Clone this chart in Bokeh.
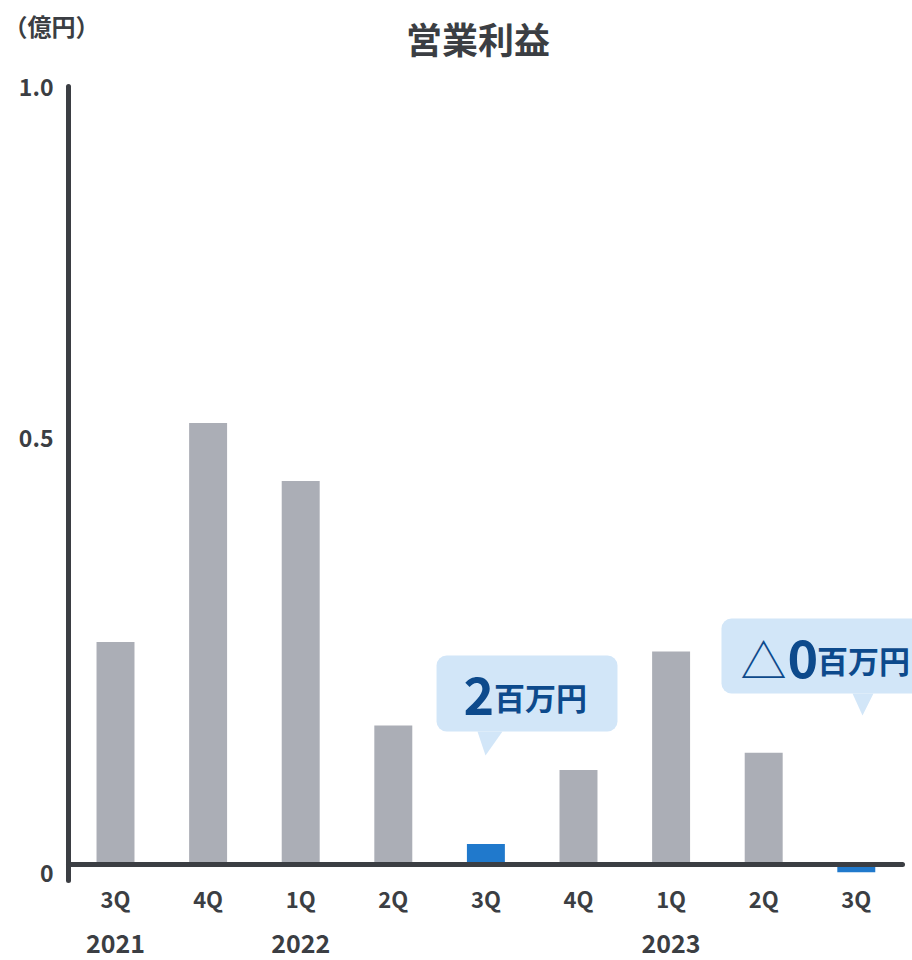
from bokeh.plotting import figure
from bokeh.models import Range1d, LinearAxis, FixedTicker, BoxAnnotation, Label, ColumnDataSource
from bokeh.core.properties import value
from bokeh.embed import file_html
from bokeh.resources import INLINE

# ---- data ----
quarters = ["3Q", "4Q", "1Q", "2Q", "3Q", "4Q", "1Q", "2Q", "3Q"]
years = ["2021", "2022", "2023"]
year_start_index = [0, 2, 6]
operating_profit = [0.261, 0.518, 0.450, 0.163, 0.024, 0.111, 0.250, 0.131, -0.009]  # 億円
y_tick_labels = ["0", "0.5", "1.0"]
callout_bars = [4, 8]
callout_1 = ["2", "百万円"]
callout_2 = ["△", "0", "百万円"]
title_text = "営業利益"
unit_text = "（億円）"

# ---- style ----
FONT_NAME = "Noto Sans CJK JP"
FONT = value(FONT_NAME)
GRAY = "#abaeb6"
BLUE = "#2079cc"
DARK = "#3b3e43"
BUBBLE = "#d2e6f8"
NAVY = "#0d4a8c"

idx = list(range(len(quarters)))
colors = [BLUE if i in callout_bars else GRAY for i in idx]
src = ColumnDataSource(dict(x=idx, top=operating_profit, color=colors))

# frame covers the whole canvas; axes are placed at fixed locations
X0, X1 = -1.242, 8.607
Y0, Y1 = -0.1127, 1.014
AXIS_X = -0.508
p = figure(width=912, height=960,
           x_range=Range1d(X0, X1), y_range=Range1d(Y0, Y1),
           output_backend="svg", toolbar_location=None,
           x_axis_location=None, y_axis_location=None,
           min_border=0, min_border_left=0, min_border_right=0,
           min_border_top=0, min_border_bottom=0)
p.grid.visible = False
p.outline_line_color = None

p.vbar(x="x", top="top", bottom=0, width=0.41, fill_color="color", line_color=None, source=src)

# y axis
yax = LinearAxis(ticker=FixedTicker(ticks=[-0.011, 0.5, 0.912]),
                 major_label_overrides={-0.011: y_tick_labels[0], 0.5: y_tick_labels[1],
                                        0.912: y_tick_labels[2]},
                 fixed_location=AXIS_X, bounds=(-0.019, 0.913))
yax.axis_line_width = 5
yax.axis_line_color = DARK
yax.axis_line_cap = "round"
yax.major_tick_line_color = None
yax.minor_tick_line_color = None
yax.major_tick_out = 0
yax.major_tick_in = 0
yax.major_label_standoff = 15
yax.major_label_text_font = FONT_NAME
yax.major_label_text_font_style = "bold"
yax.major_label_text_font_size = "23px"
yax.major_label_text_color = DARK
p.add_layout(yax, "left")

# x axes: quarters (with the zero line) and years
qax = LinearAxis(ticker=FixedTicker(ticks=idx),
                 major_label_overrides={i: q for i, q in zip(idx, quarters)},
                 fixed_location=0, bounds=(AXIS_X, 8.504))
qax.axis_line_width = 5
qax.axis_line_color = DARK
qax.axis_line_cap = "round"
yrax = LinearAxis(ticker=FixedTicker(ticks=year_start_index),
                  major_label_overrides={i: y for i, y in zip(year_start_index, years)},
                  fixed_location=0)
yrax.axis_line_color = None
for ax, sz, so in ((qax, "22px", 18), (yrax, "25px", 70)):
    ax.major_tick_line_color = None
    ax.minor_tick_line_color = None
    ax.major_tick_out = 0
    ax.major_tick_in = 0
    ax.major_label_standoff = so
    ax.major_label_text_font = FONT_NAME
    ax.major_label_text_font_style = "bold"
    ax.major_label_text_font_size = sz
    ax.major_label_text_color = DARK
    p.add_layout(ax, "below")

# callout bubbles
boxes = [(3.467, 5.421, 0.2453, 0.1561), (6.544, 9.0, 0.2887, 0.2007)]
pointers = [(3.909, 4.179, 3.996, 0.128), (7.959, 8.186, 8.067, 0.1749)]
for (l, r, t, b), (px0, px1, ptip, py) in zip(boxes, pointers):
    p.add_layout(BoxAnnotation(left=l, right=r, top=t, bottom=b, fill_color=BUBBLE,
                               fill_alpha=1, line_color=None, border_radius=10,
                               level="underlay"))
    p.patch(x=[px0, px1, ptip], y=[b, b, py], fill_color=BUBBLE, line_color=None)

def txt(x, y, s, size, style="bold"):
    p.text(x=[x], y=[y], text=[s], text_font=FONT, text_font_style=style,
           text_font_size=size, text_color=NAVY, text_baseline="alphabetic", text_align="left")

txt(3.758, 0.198, callout_1[0], "52px")
txt(4.088, 0.197, callout_1[1], "31px")
txt(6.749, 0.2418, callout_2[0], "46px", "normal")
txt(7.257, 0.2418, callout_2[1], "52px")
txt(7.575, 0.2408, callout_2[2], "31px")

# titles
p.add_layout(Label(x=3.915, y=0.970, text=title_text, text_align="center", text_baseline="middle",
                   text_font=FONT_NAME, text_font_style="bold", text_font_size="36px",
                   text_color=DARK))
p.add_layout(Label(x=-1.21, y=0.985, text=unit_text, text_align="left", text_baseline="middle",
                   text_font=FONT_NAME, text_font_style="bold", text_font_size="24px",
                   text_color=DARK))

open("out.html", "w").write(file_html(p, INLINE))
